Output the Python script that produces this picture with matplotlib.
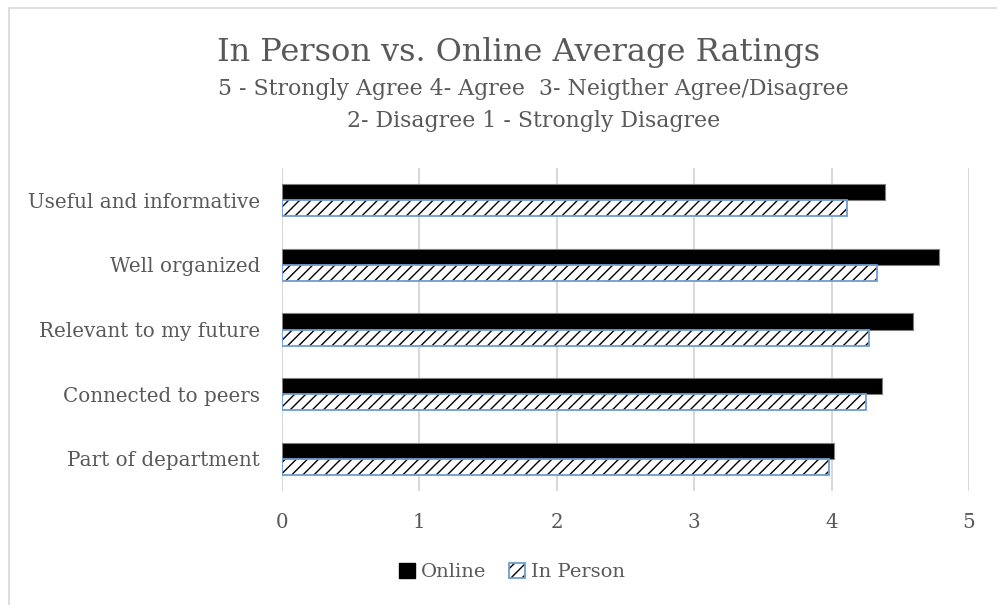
import matplotlib.pyplot as plt
import numpy as np
from matplotlib.lines import Line2D
from matplotlib.patches import Patch

categories = ["Useful and informative", "Well organized", "Relevant to my future",
              "Connected to peers", "Part of department"]
online = [4.39, 4.78, 4.59, 4.37, 4.02]
in_person = [4.11, 4.33, 4.27, 4.25, 3.98]
x_ticks = [0, 1, 2, 3, 4, 5]

title = "In Person vs. Online Average Ratings"
subtitle1 = "5 - Strongly Agree 4- Agree  3- Neigther Agree/Disagree"
subtitle2 = "2- Disagree 1 - Strongly Disagree"

plt.rcParams['font.family'] = ['DejaVu Serif']
plt.rcParams['hatch.linewidth'] = 1.0

text_gray = '#595959'
grid_gray = '#d9d9d9'
blue_edge = '#6f9bd1'

W, H = 997, 605
fig = plt.figure(figsize=(W / 100, H / 100), dpi=100)

# chart area border, only left and top edges are visible
fig.add_artist(Line2D([9 / W, 9 / W], [0, (H - 8) / H], color=grid_gray, linewidth=1.2))
fig.add_artist(Line2D([9 / W, 1.01], [(H - 8) / H, (H - 8) / H], color=grid_gray, linewidth=1.2))

ax = fig.add_axes([282 / W, (H - 491) / H, 687 / W, 323 / H])

y = np.arange(len(categories))
h = 0.25
ax.barh(y - h / 2, online, height=h, color='black', edgecolor='#7f7f7f', linewidth=0.8,
        label='Online', zorder=3)
# hatch in black, outline in blue (drawn separately)
ax.barh(y + h / 2, in_person, height=h, color='white', edgecolor='black', linewidth=0,
        hatch='///', zorder=3)
ax.barh(y + h / 2, in_person, height=h, fill=False, edgecolor=blue_edge, linewidth=1.3,
        label='In Person', zorder=4)

ax.set_xlim(0, 5)
ax.set_ylim(len(categories) - 0.5, -0.5)
ax.set_xticks(x_ticks)
ax.set_yticks(y)
ax.set_yticklabels(categories)
ax.grid(axis='x', color=grid_gray, linewidth=1.5, zorder=0)
ax.set_axisbelow(True)
for s in ax.spines.values():
    s.set_visible(False)
ax.tick_params(length=0, colors=text_gray, labelsize=14.3)
ax.tick_params(axis='x', pad=16)
ax.tick_params(axis='y', pad=16)

fig.text(0.52, (H - 52) / H, title, ha='center', va='center', fontsize=23, color=text_gray)
fig.text(0.535, (H - 89) / H, subtitle1, ha='center', va='center', fontsize=15.8, color=text_gray)
fig.text(0.535, (H - 121) / H, subtitle2, ha='center', va='center', fontsize=15.8, color=text_gray)

online_patch = Patch(facecolor='black', edgecolor='black')
hatch_patch = Patch(facecolor='white', edgecolor='black', linewidth=0, hatch='///')
outline_patch = Patch(fill=False, edgecolor=blue_edge, linewidth=1.3)
fig.legend(handles=[online_patch, (hatch_patch, outline_patch)], labels=['Online', 'In Person'],
           loc='center', bbox_to_anchor=(512 / W, (H - 572) / H), ncol=2,
           frameon=False, fontsize=14, handlelength=0.8, handleheight=0.8,
           handletextpad=0.3, columnspacing=1.2, labelcolor=text_gray)

fig.savefig('out.png', dpi=100)
